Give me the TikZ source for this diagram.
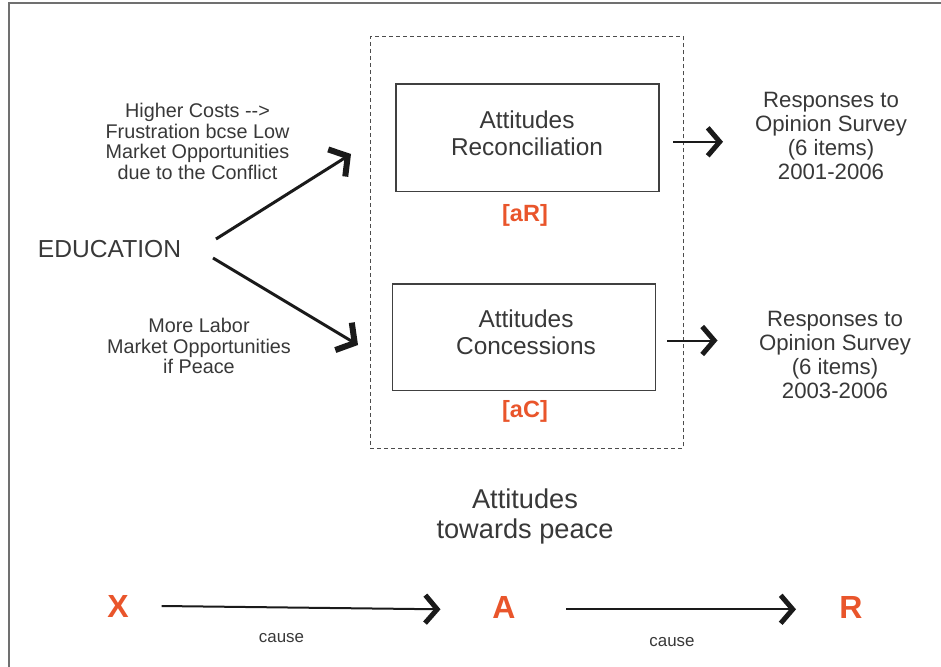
\documentclass[tikz,border=0pt]{standalone}
\usepackage{fontspec}
\setmainfont{Liberation Sans}
\usetikzlibrary{arrows.meta}
\definecolor{txt}{HTML}{383838}
\definecolor{accent}{HTML}{E9552B}
\definecolor{frame}{HTML}{707070}
\definecolor{ink}{HTML}{1A1A1A}
\begin{document}
\begin{tikzpicture}[x=1pt,y=-1pt,
  lbl/.style={inner sep=0pt,align=center,text=txt},
  side/.style={lbl,font=\fontsize{19.8}{20.7}\selectfont},
  resp/.style={lbl,font=\fontsize{22.2}{23.7}\selectfont},
  boxtxt/.style={lbl,font=\fontsize{24.4}{27.3}\selectfont},
  letter/.style={inner sep=0pt,text=accent,font=\fontsize{32}{32}\selectfont\bfseries},
  tag/.style={inner sep=0pt,text=accent,font=\fontsize{23.5}{24}\selectfont\bfseries},
  causetxt/.style={lbl,font=\fontsize{16.9}{18}\selectfont},
  attbox/.style={draw=black!75,line width=1.2pt,inner sep=0pt},
  chev/.style={draw=ink,-{Straight Barb[length=12pt,width=28pt,line width'=5pt]}},
  bigchev/.style={draw=ink,-{Straight Barb[length=13pt,width=32pt,line width'=6pt]}},
]
\useasboundingbox (0,0) rectangle (941,666);
% outer frame: only its top and left edges fall inside the page
\draw[frame,line width=2.2pt] (8.7,680) -- (8.7,2.7) -- (960,2.7);

% group of attitude measures
\node[draw=black!70,dashed,dash pattern=on 4pt off 3pt,line width=1pt,
      minimum width=313.3pt,minimum height=411.3pt,inner sep=0pt] (group) at (526.7,242.4) {};
\node[attbox,minimum width=263pt,minimum height=107pt] (rec) at (527.5,137.6) {};
\node[attbox,minimum width=263pt,minimum height=106.7pt] (con) at (523.8,337.3) {};
\node[boxtxt] (rectxt) at (527,133) {Attitudes\\Reconciliation};
\node[boxtxt] (contxt) at (526,332.5) {Attitudes\\Concessions};
\node[tag] (aR) at (525,215) {[aR]};
\node[tag] (aC) at (525,411) {[aC]};

% education and the two channels
\node[lbl,font=\fontsize{24.6}{26}\selectfont] (edu) at (109.5,249.5) {EDUCATION};
\node[side] (costs) at (197.5,141.5) {Higher Costs -{}->\\Frustration bcse Low\\Market Opportunities\\due to the Conflict};
\node[side] (labor) at (199,346) {More Labor\\Market Opportunities\\if Peace};
\coordinate (eduUp) at (216,239);
\coordinate (eduDn) at (213,258);
\coordinate (inUp) at (351,154);
\coordinate (inDn) at (358,345);
\draw[bigchev,line width=3pt] (eduUp) -- (inUp);
\draw[bigchev,line width=3pt] (eduDn) -- (inDn);

% survey responses
\node[resp] (resp1) at (831,136) {Responses to\\Opinion Survey\\(6 items)\\2001-2006};
\node[resp] (resp2) at (835,355) {Responses to\\Opinion Survey\\(6 items)\\2003-2006};
\coordinate (r1a) at (673,141.8);
\coordinate (r1b) at (723,141.8);
\coordinate (r2a) at (667,340.5);
\coordinate (r2b) at (717.5,340.5);
\draw[chev,line width=2pt] (r1a) -- (r1b);
\draw[chev,line width=2pt] (r2a) -- (r2b);

\node[lbl,font=\fontsize{27.2}{30}\selectfont] (peace) at (525,516.5) {Attitudes\\towards peace};

% causal chain
\node[letter] (X) at (118,606) {X};
\node[letter] (A) at (504,607.5) {A};
\node[letter] (R) at (851,607) {R};
\coordinate (xa1) at (161.7,606);
\coordinate (xa2) at (440.5,609.3);
\coordinate (ar1) at (566,609.3);
\coordinate (ar2) at (796,609.3);
\draw[chev,line width=2pt] (xa1) -- (xa2);
\draw[chev,line width=2pt] (ar1) -- (ar2);
\node[causetxt] (c1) at (281.5,638.5) {cause};
\node[causetxt] (c2) at (672,642.5) {cause};
\end{tikzpicture}
\end{document}
